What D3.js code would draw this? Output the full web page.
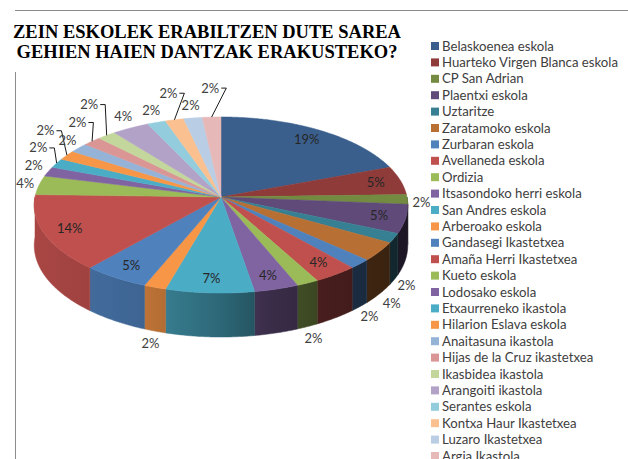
<!DOCTYPE html>
<html>
<head>
<meta charset="utf-8">
<script src="https://cdn.jsdelivr.net/npm/d3@7"></script>
<style>
  body { margin: 0; background: #fff; }
  text { font-family: Lato, "Liberation Sans", sans-serif; }
</style>
</head>
<body>
<script>
const config = {
  width: 628,
  height: 459
};

// Data (counts, total 57)
const schools = [
  "Belaskoenea eskola", "Huarteko Virgen Blanca eskola", "CP San Adrian",
  "Plaentxi eskola", "Uztaritze", "Zaratamoko eskola", "Zurbaran eskola",
  "Avellaneda eskola", "Ordizia", "Itsasondoko herri eskola",
  "San Andres eskola", "Arberoako eskola", "Gandasegi Ikastetxea",
  "Amaña Herri  Ikastetxea", "Kueto eskola", "Lodosako eskola",
  "Etxaurreneko ikastola", "Hilarion Eslava eskola", "Anaitasuna ikastola",
  "Hijas de la Cruz ikastetxea", "Ikasbidea ikastola", "Arangoiti ikastola",
  "Serantes eskola", "Kontxa Haur Ikastetxea", "Luzaro Ikastetxea", "Argia Ikastola"
];
const counts = [11, 3, 1, 3, 1, 2, 1, 2, 1, 2, 4, 1, 3, 8, 2, 1, 1, 1, 1, 1, 1, 2, 1, 1, 1, 1];
const colors = [
  "#3b5f8c", "#8e3b39", "#738b40", "#5f4a79", "#377f93", "#b76f33",
  "#4f81bd", "#c0504d", "#9bbb59", "#8064a2", "#4bacc6", "#f79646",
  "#4f81bd", "#c0504d", "#9bbb59", "#8064a2", "#4bacc6", "#f79646",
  "#95b3d7", "#d99694", "#c3d69b", "#b3a2c7", "#93cddd", "#fac090",
  "#b9cde5", "#e6b9b8"
];
const titleLines = ["ZEIN ESKOLEK ERABILTZEN DUTE SAREA", "GEHIEN HAIEN DANTZAK ERAKUSTEKO?"];

const total = d3.sum(counts);

const svg = d3
  .select("body")
  .append("svg")
  .attr("width", config.width)
  .attr("height", config.height);

// frame lines
svg.append("line").attr("x1", 15).attr("x2", 628).attr("y1", 10.5).attr("y2", 10.5)
  .attr("stroke", "#8c8c8c").attr("stroke-width", 1);
svg.append("line").attr("x1", 15.5).attr("x2", 15.5).attr("y1", 72).attr("y2", 459)
  .attr("stroke", "#8c8c8c").attr("stroke-width", 1);

// title
svg.append("g")
  .selectAll("text")
  .data(titleLines)
  .enter()
  .append("text")
  .text(d => d)
  .attr("x", 207)
  .attr("y", (d, i) => 38 + i * 20)
  .attr("text-anchor", "middle")
  .style("font-family", "'Liberation Serif', 'Times New Roman', serif")
  .style("font-weight", "bold")
  .style("font-size", "18.5px")
  .attr("fill", "#000");

// 3d pie projection
const cx = 221, cy = 197, rx = 186, ry = 87.3, persp = 0.0909, depth = 40;
const proj = (a, r = 1) => {
  const X = r * Math.sin(a), Z = -r * Math.cos(a);
  const s = 1 / (1 - persp * Z);
  return [cx + rx * X * s, cy + ry * Z * s, s];
};
const sample = (a0, a1) => {
  const n = Math.max(2, Math.ceil((a1 - a0) / 0.01));
  return d3.range(n + 1).map(i => a0 + (a1 - a0) * i / n);
};

const arcs = d3.pie().sort(null).value(d => d)(counts);

// side shading depends on x (light from the left)
const shade = [[0, 0.88], [0.28, 0.78], [0.5, 0.6], [0.63, 0.45], [0.8, 0.36], [1, 0.3]];
const defs = svg.append("defs");
arcs.forEach((d, i) => {
  const g = defs.append("linearGradient")
    .attr("id", "side" + i)
    .attr("gradientUnits", "userSpaceOnUse")
    .attr("x1", cx - rx).attr("x2", cx + rx).attr("y1", 0).attr("y2", 0);
  const c = d3.rgb(colors[i]);
  shade.forEach(([t, f]) => {
    g.append("stop").attr("offset", t)
      .attr("stop-color", d3.rgb(c.r * f, c.g * f, c.b * f).formatHex());
  });
});

const sidePath = d => {
  const lo = Math.max(d.startAngle, Math.PI / 2), hi = Math.min(d.endAngle, 3 * Math.PI / 2);
  if (hi <= lo) return null;
  const p = d3.path();
  const angs = sample(lo, hi);
  angs.forEach((a, k) => {
    const [x, y] = proj(a);
    k ? p.lineTo(x, y) : p.moveTo(x, y);
  });
  angs.slice().reverse().forEach(a => {
    const [x, y, s] = proj(a);
    p.lineTo(x, y + depth * s);
  });
  p.closePath();
  return p.toString();
};

const topPath = d => {
  const p = d3.path();
  p.moveTo(cx, cy);
  sample(d.startAngle, d.endAngle).forEach(a => {
    const [x, y] = proj(a);
    p.lineTo(x, y);
  });
  p.closePath();
  return p.toString();
};

const pie = svg.append("g");
pie.selectAll("path.side")
  .data(arcs.filter(d => sidePath(d)))
  .enter()
  .append("path")
  .attr("class", "side")
  .attr("d", sidePath)
  .attr("fill", d => `url(#side${d.index})`)
  .attr("stroke", d => `url(#side${d.index})`)
  .attr("stroke-width", 0.5);

pie.selectAll("path.top")
  .data(arcs)
  .enter()
  .append("path")
  .attr("class", "top")
  .attr("d", topPath)
  .attr("fill", (d, i) => colors[i])
  .attr("stroke", (d, i) => colors[i])
  .attr("stroke-width", 0.5);

// data labels
const labelG = svg.append("g");
const pct = v => Math.round(v / total * 100) + "%";
const chord = d => {
  const [x0, y0] = proj(d.startAngle), [x1, y1] = proj(d.endAngle);
  return Math.hypot(x1 - x0, y1 - y0);
};
const fits = d => d.value >= 3 || chord(d) > 36;
const inside = arcs.filter(fits);
const outside = arcs.filter(d => !fits(d));

labelG.selectAll("text.in")
  .data(inside)
  .enter()
  .append("text")
  .attr("class", "in")
  .text(d => pct(d.value))
  .attr("x", d => proj((d.startAngle + d.endAngle) / 2, 0.86)[0])
  .attr("y", d => proj((d.startAngle + d.endAngle) / 2, 0.86)[1])
  .attr("dy", "0.35em")
  .attr("text-anchor", "middle")
  .style("font-size", "13px")
  .attr("fill", "#262626");

// outside labels: push away from each other, outward from the pie
const placed = [];
const lw = 22, lh = 17;
const hits = (x, y) => placed.some(b => Math.abs(b.x - x) < lw && Math.abs(b.y - y) < lh);
outside.forEach(d => {
  const m = (d.startAngle + d.endAngle) / 2;
  let [ax, ay, s] = proj(m);
  const front = -Math.cos(m);
  if (front > 0) ay += depth * s * Math.min(1, front / 0.4);
  let x = ax + 14 * Math.sin(m), y = ay - 13 * Math.cos(m);
  const x0 = x, y0 = y, dir = front > 0 ? 1 : -1;
  let n = 0;
  while (hits(x, y) && n < 150) { y += dir; x += 0.6 * Math.sin(m); n++; }
  placed.push({ x, y, ax, ay, moved: Math.hypot(x - x0, y - y0) > 6, d });
});

labelG.selectAll("path.leader")
  .data(placed.filter(b => b.moved))
  .enter()
  .append("path")
  .attr("class", "leader")
  .attr("d", b => {
    const sx = b.ax > b.x ? b.x + 11 : b.x - 11;
    const tx = b.ax > b.x ? sx + 5 : sx - 5;
    return d3.line()([[sx, b.y], [tx, b.y], [b.ax, b.ay]]);
  })
  .attr("fill", "none")
  .attr("stroke", "#1a1a1a")
  .attr("stroke-width", 1);

labelG.selectAll("text.out")
  .data(placed)
  .enter()
  .append("text")
  .attr("class", "out")
  .text(b => pct(b.d.value))
  .attr("x", b => b.x)
  .attr("y", b => b.y)
  .attr("dy", "0.35em")
  .attr("text-anchor", "middle")
  .style("font-size", "13px")
  .attr("fill", "#404040");

// legend
const legend = svg.append("g")
  .selectAll("g")
  .data(schools)
  .enter()
  .append("g")
  .attr("transform", (d, i) => `translate(431, ${46 + i * 16.4})`);

legend.append("rect")
  .attr("x", 0).attr("y", -4).attr("width", 8).attr("height", 8)
  .attr("fill", (d, i) => colors[i]);

legend.append("text")
  .text(d => d)
  .attr("x", 11)
  .attr("dy", "0.35em")
  .style("font-size", "13.2px")
  .attr("fill", "#404040");
</script>
</body>
</html>
